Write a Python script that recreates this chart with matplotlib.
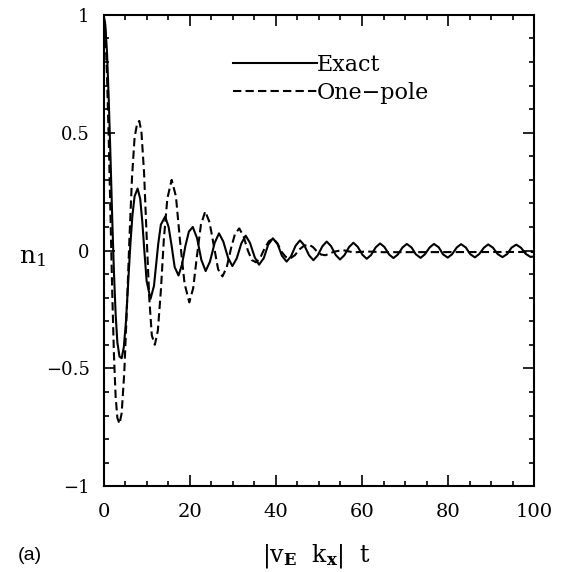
import matplotlib.pyplot as plt
from matplotlib.ticker import MultipleLocator

# values
exact_x = [0, 0.4, 0.8, 1.2, 1.6, 2.0, 2.4, 2.8, 3.2, 3.7, 4.2, 4.7, 5.2, 5.7, 6.2, 6.7, 7.2, 7.9,
           8.5, 9.0, 9.5, 10.0, 10.9, 11.7, 12.2, 12.7, 13.3, 14.3, 15.1, 15.8, 16.5, 17.4,
           18.2, 19.0, 19.8, 20.7, 21.7, 22.7, 23.7, 24.7, 25.8, 26.8, 27.8, 28.9, 29.9,
           30.9, 32.0, 33.0, 34.0, 35.1, 36.1, 37.2, 38.2, 39.3, 40.4, 41.4, 42.5, 43.5, 44.6,
           45.6, 46.6, 47.7, 48.7, 49.7, 50.8, 51.8, 52.8, 53.9, 54.9, 55.9, 57.0, 58.0, 59.0,
           60.1, 61.1, 62.1, 63.2, 64.2, 65.2, 66.3, 67.3, 68.3, 69.4, 70.4, 71.5, 72.5, 73.6,
           74.6, 75.7, 76.7, 77.8, 78.8, 79.9, 80.9, 82.0, 83.0, 84.1, 85.1, 86.2, 87.2, 88.3,
           89.3, 90.4, 91.5, 92.6, 93.7, 94.7, 95.8, 96.9, 98.0, 99.1, 100]
exact_y = [1.00, 0.96, 0.84, 0.64, 0.40, 0.14, -0.09, -0.27, -0.39, -0.45, -0.457, -0.41, -0.30,
           -0.14, 0.02, 0.15, 0.23, 0.263, 0.22, 0.12, -0.01, -0.13, -0.205, -0.15, -0.06, 0.03,
           0.11, 0.144, 0.10, 0.02, -0.07, -0.106, -0.06, 0.02, 0.08, 0.100, 0.053, -0.040,
           -0.087, -0.047, 0.033, 0.073, 0.038, -0.031, -0.066, -0.034, 0.031, 0.063, 0.032,
           -0.029, -0.060, -0.032, 0.024, 0.052, 0.027, -0.022, -0.047, -0.025, 0.021, 0.043,
           0.022, -0.020, -0.041, -0.021, 0.018, 0.038, 0.019, -0.019, -0.038, -0.020, 0.015,
           0.033, 0.016, -0.018, -0.035, -0.019, 0.014, 0.030, 0.015, -0.017, -0.032, -0.017,
           0.013, 0.028, 0.013, -0.016, -0.031, -0.016, 0.013, 0.028, 0.014, -0.016, -0.030,
           -0.016, 0.013, 0.027, 0.013, -0.015, -0.029, -0.015, 0.012, 0.026, 0.012, -0.015,
           -0.028, -0.015, 0.012, 0.025, 0.012, -0.014, -0.027, -0.025]

pole_x = [0, 0.4, 0.8, 1.2, 1.6, 2.0, 2.4, 2.8, 3.2, 3.7, 4.2, 4.8, 5.4, 6.0, 6.6, 7.2, 7.8, 8.3,
          8.8, 9.4, 10.0, 10.6, 11.2, 11.9, 12.6, 13.3, 14.0, 14.8, 15.8, 16.8, 17.7, 18.8,
          19.9, 20.8, 21.7, 22.6, 23.6, 24.6, 25.6, 26.6, 27.6, 28.6, 29.6, 30.5, 31.5, 32.5,
          33.5, 34.4, 35.4, 36.4, 37.4, 38.4, 39.4, 40.4, 41.3, 42.3, 43.3, 44.4, 45.5, 46.5,
          47.6, 48.6, 49.6, 50.5, 51.5, 53.5, 55.5, 58.0, 61.0, 65.0, 100]
pole_y = [1.00, 0.93, 0.74, 0.47, 0.15, -0.17, -0.44, -0.62, -0.71, -0.735, -0.69, -0.52, -0.25,
          0.05, 0.31, 0.48, 0.54, 0.55, 0.50, 0.33, 0.06, -0.20, -0.36, -0.40, -0.34, -0.17,
          0.05, 0.22, 0.30, 0.23, 0.05, -0.14, -0.22, -0.16, -0.02, 0.11, 0.166, 0.12, 0.02,
          -0.08, -0.11, -0.07, 0.01, 0.07, 0.094, 0.06, 0.00, -0.04, -0.05, -0.03, 0.01, 0.04,
          0.05, 0.03, -0.005, -0.027, -0.034, -0.02, 0.005, 0.02, 0.025, 0.015, -0.005, -0.017,
          -0.02, -0.005, 0.002, -0.008, -0.004, -0.007, -0.006]

ytick_vals = [-1, -0.5, 0, 0.5, 1]
ytick_text = ['\u22121', '\u22120.5', '0', '0.5', '1']

plt.rcParams['font.family'] = 'DejaVu Serif'
plt.rcParams['mathtext.fontset'] = 'dejavuserif'

fig = plt.figure(figsize=(5.66, 5.72), dpi=100)
ax = fig.add_axes([0.183, 0.150, 0.761, 0.824])

ax.plot(exact_x, exact_y, color='black', lw=1.5, label='Exact')
ax.plot(pole_x, pole_y, color='black', lw=1.5, ls=(0, (4, 2)), label='One\u2212pole')

ax.set_xlim(0, 100)
ax.set_ylim(-1, 1)
ax.xaxis.set_major_locator(MultipleLocator(20))
ax.xaxis.set_minor_locator(MultipleLocator(5))
ax.yaxis.set_minor_locator(MultipleLocator(0.1))
ax.set_yticks(ytick_vals)
ax.set_yticklabels(ytick_text)
ax.tick_params(which='both', direction='in', top=True, right=True, width=1.2)
ax.tick_params(which='major', length=8)
ax.tick_params(which='minor', length=3.6)
ax.tick_params(axis='x', which='major', labelsize=14, pad=12)
ax.tick_params(axis='y', which='major', labelsize=13, pad=10)
for s in ax.spines.values():
    s.set_linewidth(1.5)

ax.legend(loc='upper left', bbox_to_anchor=(0.30, 0.917), frameon=False, fontsize=16,
          handlelength=3.8, handletextpad=0.0, borderpad=0, borderaxespad=0, labelspacing=0.25)

fig.text(0.057, 0.55, r'$\mathrm{n_1}$', fontsize=18, ha='center', va='center')
fig.text(0.56, 0.028, r'$|\mathrm{v}_{\mathbf{E}}\ \ \mathrm{k}_{\mathbf{x}}|\ \ \mathrm{t}$',
         fontsize=17, ha='center', va='center')
fig.text(0.052, 0.028, '(a)', fontsize=14, ha='center', va='center', family='Liberation Sans')

fig.savefig('out.png', dpi=100)
